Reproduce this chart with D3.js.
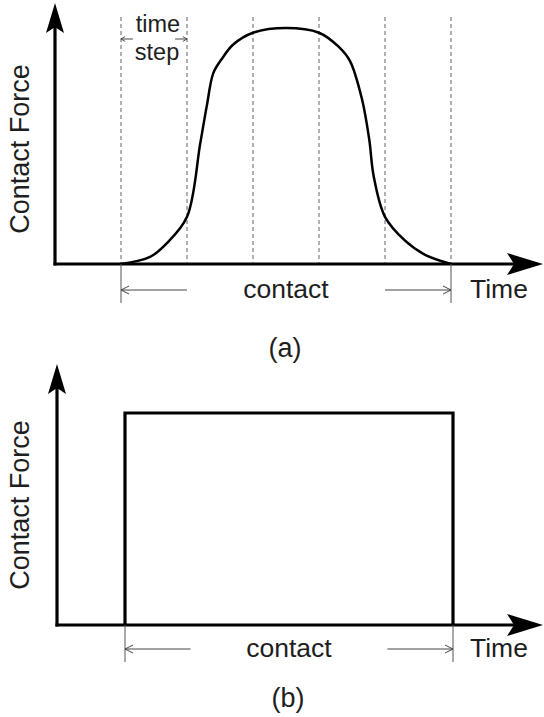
<!DOCTYPE html>
<html>
<head>
<meta charset="utf-8">
<script src="https://cdn.jsdelivr.net/npm/d3@7"></script>
<style>
  body { margin: 0; background: #fff; }
  svg { display: block; }
  text { font-family: "Liberation Sans", Arial, sans-serif; fill: #1e1e1e; }
</style>
</head>
<body>
<script>
var w = 544,
    h = 717;

// (a) smooth contact force, time in time steps
var timeA  = [0, 0.44, 0.7, 1.0, 1.2, 1.3, 1.4, 1.53, 1.7, 2.0, 2.5, 3.0, 3.3, 3.47, 3.65, 3.76, 3.83, 4.0, 4.3, 4.6, 5.0];
var forceA = [0, 0.03, 0.09, 0.20, 0.51, 0.67, 0.81, 0.87, 0.93, 0.98, 1.0, 0.98, 0.92, 0.86, 0.70, 0.53, 0.37, 0.20, 0.10, 0.04, 0];
var stepTicks = [0, 1, 2, 3, 4, 5];

// (b) rectangular pulse
var timeB  = [0, 0, 5, 5];
var forceB = [0, 1, 1, 0];

var svg = d3.select("body").append("svg")
  .attr("width", w)
  .attr("height", h);

var defs = svg.append("defs");
defs.append("marker")
  .attr("id", "dimArrow")
  .attr("viewBox", "0 0 10 10")
  .attr("refX", 10).attr("refY", 5)
  .attr("markerWidth", 10).attr("markerHeight", 10)
  .attr("markerUnits", "userSpaceOnUse")
  .attr("orient", "auto")
  .append("path")
  .attr("d", "M2,1 L10,5 L2,9")
  .attr("fill", "none")
  .attr("stroke", "#444")
  .attr("stroke-width", 1);

defs.append("marker")
  .attr("id", "smallArrow")
  .attr("viewBox", "0 0 10 10")
  .attr("refX", 10).attr("refY", 5)
  .attr("markerWidth", 6).attr("markerHeight", 6)
  .attr("markerUnits", "userSpaceOnUse")
  .attr("orient", "auto")
  .append("path")
  .attr("d", "M3,1 L10,5 L3,9")
  .attr("fill", "none")
  .attr("stroke", "#444")
  .attr("stroke-width", 1.5);

function drawPanel(cfg) {
  var g = svg.append("g");
  var x = d3.scaleLinear().domain([0, 5]).range([cfg.x0, cfg.x1]);
  var y = d3.scaleLinear().domain([0, 1]).range([cfg.yAxis, cfg.yTop]);

  // dashed time step lines
  if (cfg.dashed) {
    g.selectAll("line.step").data(stepTicks)
      .enter().append("line")
      .attr("class", "step")
      .attr("x1", function(d) { return x(d); })
      .attr("x2", function(d) { return x(d); })
      .attr("y1", cfg.dashTop)
      .attr("y2", cfg.yAxis)
      .attr("stroke", "#5a6275")
      .attr("stroke-width", 1)
      .attr("stroke-dasharray", "4,3");
  }

  // axes
  g.append("line")
    .attr("x1", cfg.ax).attr("x2", cfg.ax)
    .attr("y1", cfg.yAxis + 1.5).attr("y2", cfg.arrowTop + 20)
    .attr("stroke", "#000").attr("stroke-width", 3.2);
  g.append("line")
    .attr("x1", cfg.ax - 1.5).attr("x2", 520)
    .attr("y1", cfg.yAxis).attr("y2", cfg.yAxis)
    .attr("stroke", "#000").attr("stroke-width", 3.2);

  // axis arrowheads
  var tx = cfg.ax, ty = cfg.arrowTop;
  g.append("path")
    .attr("d", "M" + tx + "," + ty + " L" + (tx + 9) + "," + (ty + 30) +
      " L" + tx + "," + (ty + 24) + " L" + (tx - 9) + "," + (ty + 30) + "Z")
    .attr("fill", "#000");
  var rx = 543, ry = cfg.yAxis;
  g.append("path")
    .attr("d", "M" + rx + "," + ry + " L" + (rx - 36) + "," + (ry - 11) +
      " L" + (rx - 29) + "," + ry + " L" + (rx - 36) + "," + (ry + 11) + "Z")
    .attr("fill", "#000");

  // force curve
  var pts = d3.zip(cfg.t, cfg.f);
  var line = d3.line()
    .x(function(d) { return x(d[0]); })
    .y(function(d) { return y(d[1]); })
    .curve(cfg.curve);
  g.append("path")
    .datum(pts)
    .attr("d", line)
    .attr("fill", "none")
    .attr("stroke", "#000")
    .attr("stroke-width", cfg.curveWidth)
    .attr("stroke-linejoin", "miter");

  // contact dimension
  var dy = cfg.dimY;
  [0, 5].forEach(function(t) {
    g.append("line")
      .attr("x1", x(t)).attr("x2", x(t))
      .attr("y1", cfg.yAxis).attr("y2", dy + 13)
      .attr("stroke", "#555").attr("stroke-width", 1);
  });
  g.append("line")
    .attr("x1", x(1)).attr("x2", x(0))
    .attr("y1", dy).attr("y2", dy)
    .attr("stroke", "#444").attr("stroke-width", 1)
    .attr("marker-end", "url(#dimArrow)");
  g.append("line")
    .attr("x1", x(4)).attr("x2", x(5))
    .attr("y1", dy).attr("y2", dy)
    .attr("stroke", "#444").attr("stroke-width", 1)
    .attr("marker-end", "url(#dimArrow)");

  g.append("text")
    .attr("x", x(2.5)).attr("y", dy + 8)
    .attr("text-anchor", "middle")
    .attr("font-size", "26.5px")
    .text("contact");
  g.append("text")
    .attr("x", 470).attr("y", dy + 8)
    .attr("font-size", "26.5px")
    .text("Time");

  g.append("text")
    .attr("transform", "translate(" + 29 + "," + cfg.labelY + ") rotate(-90)")
    .attr("text-anchor", "middle")
    .attr("font-size", "27px")
    .text("Contact Force");

  g.append("text")
    .attr("x", x(2.5) - 1).attr("y", cfg.capY)
    .attr("text-anchor", "middle")
    .attr("font-size", "27px")
    .text(cfg.caption);

  return x;
}

var xa = drawPanel({
  x0: 121, x1: 451, yAxis: 264, yTop: 28, ax: 55, arrowTop: 3,
  dashed: true, dashTop: 17,
  t: timeA, f: forceA, curve: d3.curveCatmullRom.alpha(0.5), curveWidth: 2.5,
  dimY: 290, labelY: 149, capY: 357, caption: "(a)"
});

drawPanel({
  x0: 125, x1: 453, yAxis: 625, yTop: 413, ax: 57, arrowTop: 364,
  dashed: false,
  t: timeB, f: forceB, curve: d3.curveLinear, curveWidth: 3.2,
  dimY: 649, labelY: 505, capY: 707, caption: "(b)"
});

// time step annotation
svg.append("text")
  .attr("x", xa(0.5) + 4).attr("y", 32)
  .attr("text-anchor", "middle")
  .attr("font-size", "23.5px")
  .text("time");
svg.append("text")
  .attr("x", xa(0.5) + 3).attr("y", 60)
  .attr("text-anchor", "middle")
  .attr("font-size", "23.5px")
  .text("step");
svg.append("line")
  .attr("x1", xa(0.18)).attr("x2", xa(0))
  .attr("y1", 39).attr("y2", 39)
  .attr("stroke", "#444").attr("stroke-width", 1)
  .attr("marker-end", "url(#smallArrow)");
svg.append("line")
  .attr("x1", xa(0.82)).attr("x2", xa(1))
  .attr("y1", 39).attr("y2", 39)
  .attr("stroke", "#444").attr("stroke-width", 1)
  .attr("marker-end", "url(#smallArrow)");
</script>
</body>
</html>
